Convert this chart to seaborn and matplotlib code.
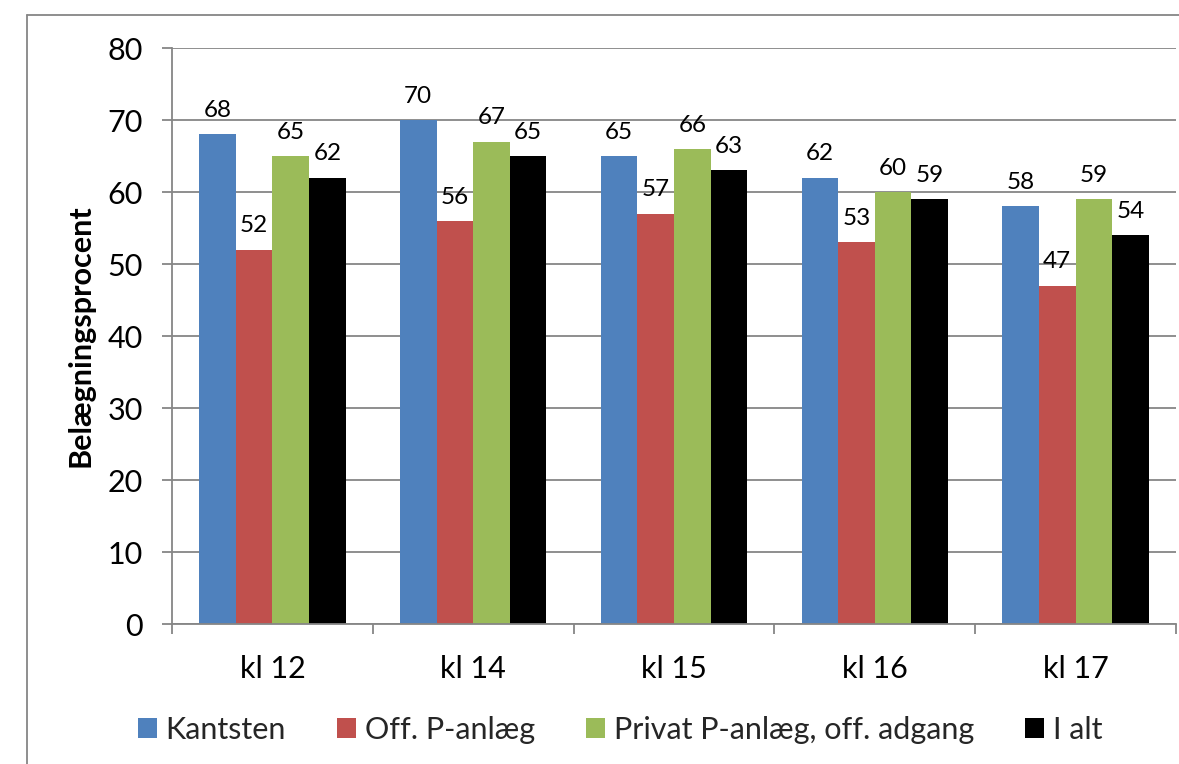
import matplotlib
matplotlib.use("Agg")
import matplotlib.pyplot as plt
import seaborn as sns
import pandas as pd
from matplotlib.lines import Line2D
from matplotlib.patches import Patch
from matplotlib.ticker import FixedLocator

categories = ["kl 12", "kl 14", "kl 15", "kl 16", "kl 17"]
series_names = ["Kantsten", "Off. P-anlæg", "Privat P-anlæg, off. adgang", "I alt"]
kantsten = [68, 70, 65, 62, 58]
off_p = [52, 56, 57, 53, 47]
privat_p = [65, 67, 66, 60, 59]
i_alt = [62, 65, 63, 59, 54]
colors = ["#4F81BD", "#C0504D", "#9BBB59", "#000000"]
y_ticks = [0, 10, 20, 30, 40, 50, 60, 70, 80]

rows = []
for name, vals in zip(series_names, [kantsten, off_p, privat_p, i_alt]):
    for c, v in zip(categories, vals):
        rows.append({"kl": c, "serie": name, "val": v})
df = pd.DataFrame(rows)

sns.set_theme(style="white")
plt.rcParams["font.family"] = ["Lato", "DejaVu Sans"]

fig = plt.figure(figsize=(11.79, 7.64), dpi=100)
ax = fig.add_axes([172/1179, 1-624/764, (1176-172)/1179, (624-48)/764])

sns.barplot(data=df, x="kl", y="val", hue="serie", order=categories,
            hue_order=series_names, palette=colors, width=0.73, gap=0,
            linewidth=0, saturation=1, ax=ax, legend=False, errorbar=None)

grid_c = "#868686"
ax.set_ylim(0, 80)
ax.set_xlim(-0.5, len(categories) - 0.5)
ax.set_yticks(y_ticks)
ax.yaxis.grid(True, color=grid_c, linewidth=1.3)
ax.set_axisbelow(True)
for s in ["top", "right"]:
    ax.spines[s].set_visible(False)
for s in ["left", "bottom"]:
    ax.spines[s].set_color(grid_c)
    ax.spines[s].set_linewidth(1.3)

ax.tick_params(axis="y", direction="out", length=7, width=1.3, color=grid_c,
               labelsize=22, pad=14, left=True)
ax.tick_params(axis="x", which="major", length=0, labelsize=22, pad=22)
ax.xaxis.set_minor_locator(FixedLocator([i - 0.5 for i in range(len(categories) + 1)]))
ax.tick_params(axis="x", which="minor", direction="out", length=7, width=1.3,
               color=grid_c, bottom=True)
for lbl in ax.get_yticklabels() + ax.get_xticklabels():
    lbl.set_color("black")

ax.set_xlabel("")
ax.set_ylabel("Belægningsprocent", fontsize=22, fontweight="bold", labelpad=9,
              color="black")

for cont in ax.containers:
    for bar in cont:
        h = bar.get_height()
        ax.annotate(f"{h:.0f}", (bar.get_x() + bar.get_width() / 2, h),
                    xytext=(0, 9.5), textcoords="offset points",
                    ha="center", va="bottom", fontsize=17.5, color="black")

handles = [Patch(facecolor=c, edgecolor="none") for c in colors]
fig.legend(handles, series_names, loc="center", bbox_to_anchor=(620/1179, 1-730/764),
           ncol=4, frameon=False, fontsize=22, handlelength=0.62, handleheight=0.62,
           handletextpad=0.3, columnspacing=1.66, borderpad=0, borderaxespad=0)

fig.add_artist(Line2D([27/1179, 1.0], [1-15/764, 1-15/764], transform=fig.transFigure,
                      color=grid_c, linewidth=1.3))
fig.add_artist(Line2D([27/1179, 27/1179], [0.0, 1-15/764], transform=fig.transFigure,
                      color=grid_c, linewidth=1.3))

fig.savefig("out.png", dpi=100, facecolor="white")
